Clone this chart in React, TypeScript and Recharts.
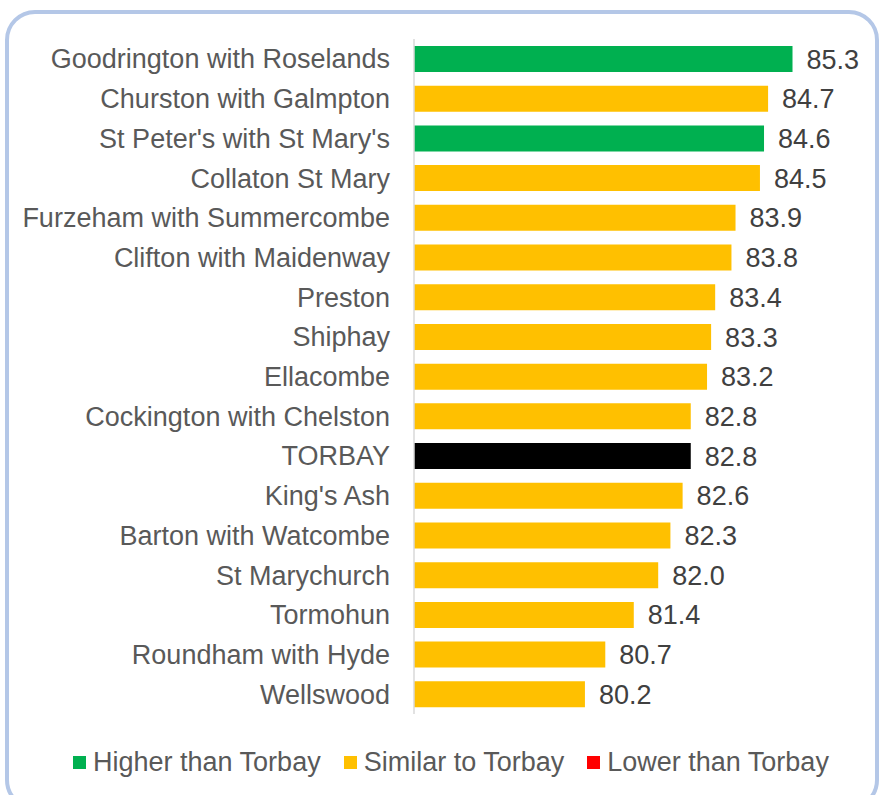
import { Bar, BarChart, Cell, LabelList, XAxis, YAxis } from "recharts";

const wards = [
  "Goodrington with Roselands",
  "Churston with Galmpton",
  "St Peter's with St Mary's",
  "Collaton St Mary",
  "Furzeham with Summercombe",
  "Clifton with Maidenway",
  "Preston",
  "Shiphay",
  "Ellacombe",
  "Cockington with Chelston",
  "TORBAY",
  "King's Ash",
  "Barton with Watcombe",
  "St Marychurch",
  "Tormohun",
  "Roundham with Hyde",
  "Wellswood",
];

const values = [85.3, 84.7, 84.6, 84.5, 83.9, 83.8, 83.4, 83.3, 83.2, 82.8, 82.8, 82.6, 82.3, 82.0, 81.4, 80.7, 80.2];

// H = higher, S = similar, L = lower, T = Torbay itself
const status = ["H", "S", "H", "S", "S", "S", "S", "S", "S", "S", "T", "S", "S", "S", "S", "S", "S"];

const legendItems = [
  { label: "Higher than Torbay", color: "#00B050" },
  { label: "Similar to Torbay", color: "#FFC000" },
  { label: "Lower than Torbay", color: "#FF0000" },
];

const statusColor: Record<string, string> = {
  H: "#00B050",
  S: "#FFC000",
  L: "#FF0000",
  T: "#000000",
};

const data = wards.map((name, i) => ({ name, value: values[i], status: status[i] }));

const font = "'Liberation Sans', Arial, sans-serif";

export default function App() {
  return (
    <div style={{ position: "fixed", left: 0, top: 0, width: 884, height: 795, overflow: "hidden", background: "#fff", fontFamily: font }}>
      <div
        style={{
          position: "absolute",
          left: 5,
          top: 10,
          width: 874,
          height: 800,
          border: "4px solid #B4C7E7",
          borderRadius: 30,
          boxSizing: "border-box",
        }}
      />
      <div style={{ position: "absolute", left: 0, top: 0 }}>
        <BarChart
          width={884}
          height={795}
          data={data}
          layout="vertical"
          margin={{ top: 39, right: 63, bottom: 81, left: 0 }}
        >
          <XAxis type="number" domain={[76, 86]} hide allowDataOverflow />
          <YAxis
            type="category"
            dataKey="name"
            width={414}
            interval={0}
            tickLine={false}
            tickSize={0}
            tickMargin={24}
            axisLine={{ stroke: "#D9D9D9", strokeWidth: 1.5 }}
            tick={{ fill: "#595959", fontSize: 27, fontFamily: font }}
          />
          <Bar dataKey="value" barSize={26} isAnimationActive={false}>
            {data.map((d) => (
              <Cell key={d.name} fill={statusColor[d.status]} />
            ))}
            <LabelList
              dataKey="value"
              position="right"
              offset={14}
              fill="#404040"
              fontSize={27}
              fontFamily={font}
              formatter={(v: number) => Number(v).toFixed(1)}
            />
          </Bar>
        </BarChart>
      </div>
      <div
        style={{
          position: "absolute",
          left: 73,
          top: 747,
          display: "flex",
          alignItems: "center",
          gap: 23,
          fontSize: 27,
          color: "#595959",
          whiteSpace: "nowrap",
        }}
      >
        {legendItems.map((it) => (
          <div key={it.label} style={{ display: "flex", alignItems: "center", gap: 7 }}>
            <span style={{ display: "inline-block", width: 13, height: 13, background: it.color }} />
            <span>{it.label}</span>
          </div>
        ))}
      </div>
    </div>
  );
}
